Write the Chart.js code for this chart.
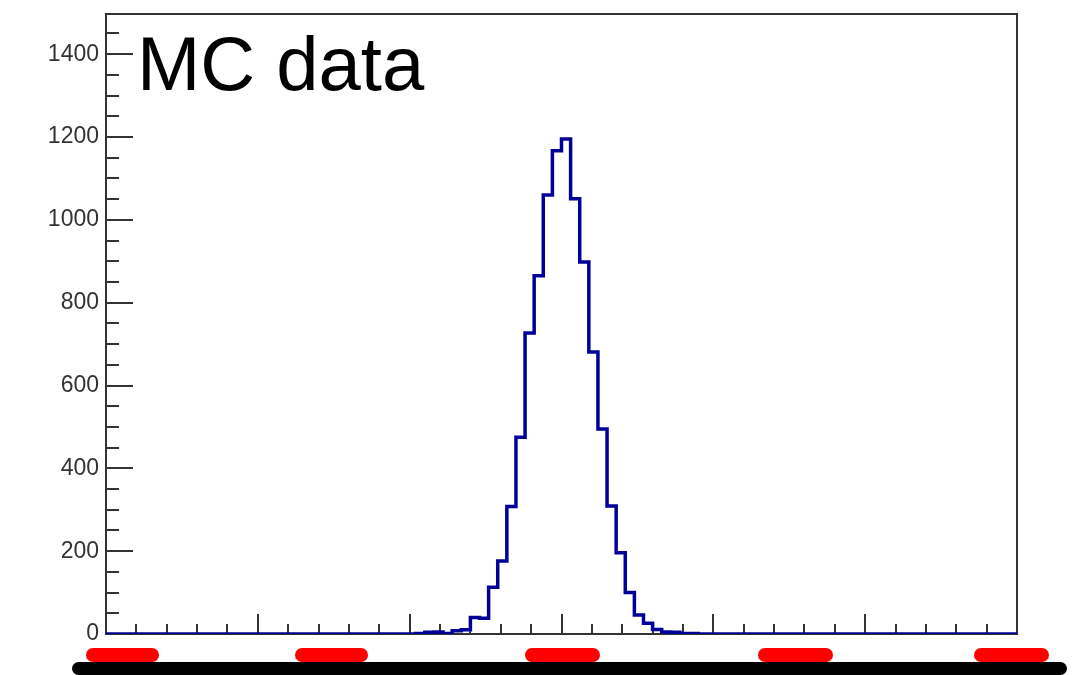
<!DOCTYPE html>
<html>
<head>
<meta charset="utf-8">
<title>MC data</title>
<script src="https://cdn.jsdelivr.net/npm/chart.js@4.4.1/dist/chart.umd.min.js"></script>
<style>
  body { margin: 0; background: #fff; }
  #wrap { position: relative; width: 1086px; height: 675px; overflow: hidden; }
  #chart { position: absolute; left: 0; top: 0; }
  .bar { position: absolute; border-radius: 7px; }
  .base { left: 72px; top: 662px; width: 995px; height: 13px; background: #000; }
  .red { top: 648px; height: 14px; background: #ff0000; }
</style>
</head>
<body>
<div id="wrap">
  <canvas id="chart" width="1086" height="675"></canvas>
  <div class="bar base"></div>
  <div class="bar red" style="left:86px;width:73px"></div>
  <div class="bar red" style="left:295px;width:73px"></div>
  <div class="bar red" style="left:525px;width:75px"></div>
  <div class="bar red" style="left:758px;width:75px"></div>
  <div class="bar red" style="left:974px;width:75px"></div>
</div>
<script>
// histogram: 100 bins from -3 to 3
const xMin = -3;
const xMax = 3;
const binWidth = 0.06;

const counts = [
  0, 0, 0, 0, 0, 0, 0, 0, 0, 0,
  0, 0, 0, 0, 0, 0, 0, 0, 0, 0,
  0, 0, 0, 0, 0, 0, 0, 0, 0, 0,
  0, 0, 0, 0, 1, 4, 5, 1, 8, 10,
  40, 38, 113, 176, 308, 475, 727, 865, 1060, 1167,
  1195, 1051, 898, 681, 495, 309, 196, 100, 46, 26,
  11, 5, 4, 1, 1, 0, 0, 0, 0, 0,
  0, 0, 0, 0, 0, 0, 0, 0, 0, 0,
  0, 0, 0, 0, 0, 0, 0, 0, 0, 0,
  0, 0, 0, 0, 0, 0, 0, 0, 0, 0
];

const yTicks = [0, 200, 400, 600, 800, 1000, 1200, 1400];
const yMax = 1497;
const title = "MC data";

// outline points at the left edge of every bin, plus the closing right edge
const points = counts.map((c, i) => ({ x: xMin + i * binWidth, y: c }));
points.push({ x: xMax, y: counts[counts.length - 1] });

// ROOT style frame with ticks drawn inside the pad
const framePlugin = {
  id: "frame",
  beforeDatasetsDraw(chart) {
    const ctx = chart.ctx;
    const a = chart.chartArea;
    const xs = chart.scales.x;
    const ys = chart.scales.y;
    ctx.save();
    ctx.strokeStyle = "#333";
    ctx.lineWidth = 2;

    ctx.beginPath();
    for (let v = 0; v <= yMax; v += 50) {
      const y = Math.round(ys.getPixelForValue(v));
      const len = v % 200 === 0 ? 27 : 13;
      ctx.moveTo(a.left, y);
      ctx.lineTo(a.left + len, y);
    }
    for (let k = 0; k <= 30; k++) {
      const v = xMin + k * 0.2;
      const x = Math.round(xs.getPixelForValue(v));
      const len = k % 5 === 0 ? 20 : 10;
      ctx.moveTo(x, a.bottom);
      ctx.lineTo(x, a.bottom - len);
    }
    ctx.stroke();

    ctx.strokeRect(a.left, a.top, a.right - a.left, a.bottom - a.top);
    ctx.restore();
  },
  afterDraw(chart) {
    const ctx = chart.ctx;
    ctx.save();
    ctx.fillStyle = "#000";
    ctx.font = "76px 'Liberation Sans', Arial, sans-serif";
    ctx.textBaseline = "alphabetic";
    ctx.fillText(title, 137, 90);
    ctx.restore();
  }
};

new Chart(document.getElementById("chart"), {
  type: "line",
  data: {
    datasets: [{
      data: points,
      stepped: true,
      borderColor: "#000099",
      borderWidth: 3.5,
      pointRadius: 0,
      fill: false
    }]
  },
  options: {
    responsive: false,
    animation: false,
    layout: { padding: { top: 14, right: 69, bottom: 41, left: 0 } },
    plugins: { legend: { display: false }, tooltip: { enabled: false } },
    scales: {
      x: {
        type: "linear",
        min: xMin,
        max: xMax,
        display: false
      },
      y: {
        min: 0,
        max: yMax,
        afterFit(scale) {
          scale.width = 106;
          scale.paddingTop = 0;
          scale.paddingBottom = 0;
        },
        afterBuildTicks(scale) {
          scale.ticks = yTicks.map(v => ({ value: v }));
        },
        grid: { display: false, drawTicks: false },
        border: { display: false },
        ticks: {
          padding: 7,
          color: "#333",
          font: { family: "'Liberation Sans', Arial, sans-serif", size: 23 },
          callback: v => String(v)
        }
      }
    }
  },
  plugins: [framePlugin]
});
</script>
</body>
</html>
